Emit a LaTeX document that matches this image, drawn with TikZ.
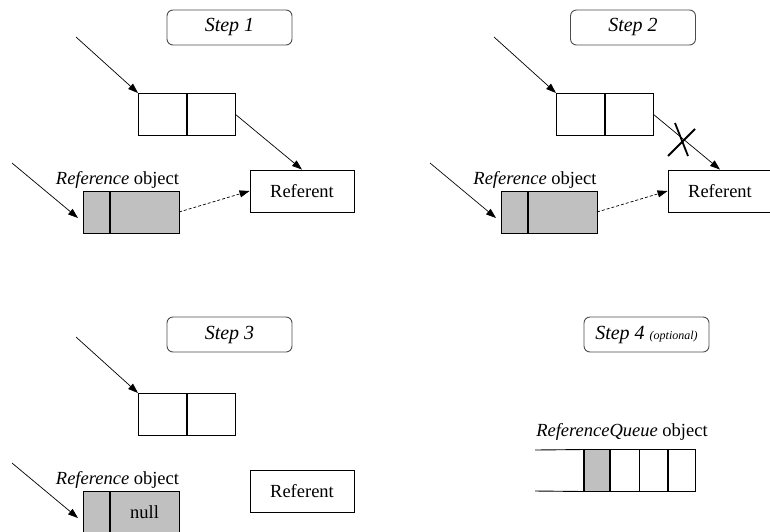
\documentclass[tikz,border=0pt]{standalone}
\usepackage{fontspec}
\setmainfont{Liberation Serif}
\usetikzlibrary{arrows.meta,calc}
\definecolor{cellgray}{HTML}{C0C0C0}
\tikzset{
  cell/.style={draw=black, line width=0.9pt, minimum height=42pt, inner sep=0pt, outer sep=0pt},
  whitecell/.style={cell, fill=white},
  graycell/.style={cell, fill=cellgray},
  stepbox/.style={draw=black!70, line width=0.9pt, rounded corners=6pt, minimum width=125pt,
    minimum height=35pt, inner sep=0pt, font=\fontsize{20}{22}\selectfont\itshape},
  referent/.style={draw=black, line width=0.9pt, minimum width=104pt, minimum height=42pt,
    inner sep=0pt, font=\fontsize{18.5}{20}\selectfont},
  label/.style={inner sep=0pt, font=\fontsize{18.5}{20}\selectfont},
  divider/.style={line width=1.8pt},
  ptr/.style={line width=0.7pt, -{Triangle[length=10pt,width=7pt]}},
  weakptr/.style={ptr, dashed, dash pattern=on 3pt off 2pt},
  cross/.style={line width=1.8pt},
}
\begin{document}
\begin{tikzpicture}[x=1pt,y=-1pt]
\useasboundingbox (0,0) rectangle (770,531);

% ---------- Step 1 ----------
\node[stepbox] (s1) at (229.5,27.5) {Step 1};
\node[whitecell, minimum width=49pt] (a1) at (162.5,114) {};
\node[whitecell, minimum width=48pt] (b1) at (211,114) {};
\draw[divider] (a1.north east) -- (a1.south east);
\node[referent] (r1) at (302,191) {Referent};
\node[graycell, minimum width=27pt] (ga1) at (96.5,212) {};
\node[graycell, minimum width=69pt] (gb1) at (144.5,212) {};
\draw[divider] (ga1.north east) -- (ga1.south east);
\node[label] (l1) at (117.5,180) {\textit{Reference} object};
\coordinate (p1) at (76,37);
\coordinate (q1) at (12,163);
\draw[ptr] (p1) -- (a1.north west);
\draw[ptr] (q1) -- ([xshift=-5pt,yshift=-6pt]ga1.west);
\draw[ptr] (b1.east) -- (r1.north);
\draw[weakptr] (gb1.east) -- (r1.west);

% ---------- Step 2 ----------
\node[stepbox] (s2) at (633,27.5) {Step 2};
\node[whitecell, minimum width=49pt] (a2) at (580.5,114) {};
\node[whitecell, minimum width=48pt] (b2) at (629,114) {};
\draw[divider] (a2.north east) -- (a2.south east);
\node[referent] (r2) at (720,191) {Referent};
\node[graycell, minimum width=27pt] (ga2) at (514.5,212) {};
\node[graycell, minimum width=69pt] (gb2) at (562.5,212) {};
\draw[divider] (ga2.north east) -- (ga2.south east);
\node[label] (l2) at (535,180) {\textit{Reference} object};
\coordinate (p2) at (494,37);
\coordinate (q2) at (430,163);
\draw[ptr] (p2) -- (a2.north west);
\draw[ptr] (q2) -- ([xshift=-5pt,yshift=-6pt]ga2.west);
\draw[ptr] (b2.east) -- (r2.north);
\draw[weakptr] (gb2.east) -- (r2.west);
\coordinate (x2) at (681.5,140);
\draw[cross] ($(x2)+(-13.5,16)$) -- ($(x2)+(13.5,-11)$);
\draw[cross] ($(x2)+(-6.5,-17)$) -- ($(x2)+(6.5,16)$);

% ---------- Step 3 ----------
\node[stepbox] (s3) at (229.5,334.5) {Step 3};
\node[whitecell, minimum width=49pt] (a3) at (162.5,414) {};
\node[whitecell, minimum width=48pt] (b3) at (211,414) {};
\draw[divider] (a3.north east) -- (a3.south east);
\node[referent] (r3) at (302,491) {Referent};
\node[graycell, minimum width=27pt] (ga3) at (96.5,512) {};
\node[graycell, minimum width=69pt, font=\fontsize{18.5}{20}\selectfont] (gb3) at (144.5,512) {null};
\draw[divider] (ga3.north east) -- (ga3.south east);
\node[label] (l3) at (117.5,480) {\textit{Reference} object};
\coordinate (p3) at (76,337);
\coordinate (q3) at (12,463);
\draw[ptr] (p3) -- (a3.north west);
\draw[ptr] (q3) -- ([xshift=-5pt,yshift=-6pt]ga3.west);

% ---------- Step 4 ----------
\node[stepbox] (s4) at (646.5,334.5) {Step 4 {\fontsize{12}{14}\selectfont(optional)}};
\node[label] (l4) at (622,432) {\textit{ReferenceQueue} object};
\coordinate (qa) at (535,450);
\coordinate (qb) at (535,491);
\node[graycell, minimum width=26pt] (c1) at (597,470.5) {};
\node[whitecell, minimum width=29pt] (c2) at (624.5,470.5) {};
\node[whitecell, minimum width=29pt] (c3) at (653.5,470.5) {};
\node[whitecell, minimum width=27pt] (c4) at (681.5,470.5) {};
\draw[line width=0.9pt] (qa) -- (c1.north west);
\draw[line width=0.9pt] (qb) -- (c1.south west);
\draw[divider] (c1.north west) -- (c1.south west);
\draw[divider] (c1.north east) -- (c1.south east);
\draw[divider] (c3.north east) -- (c3.south east);
\end{tikzpicture}
\end{document}
